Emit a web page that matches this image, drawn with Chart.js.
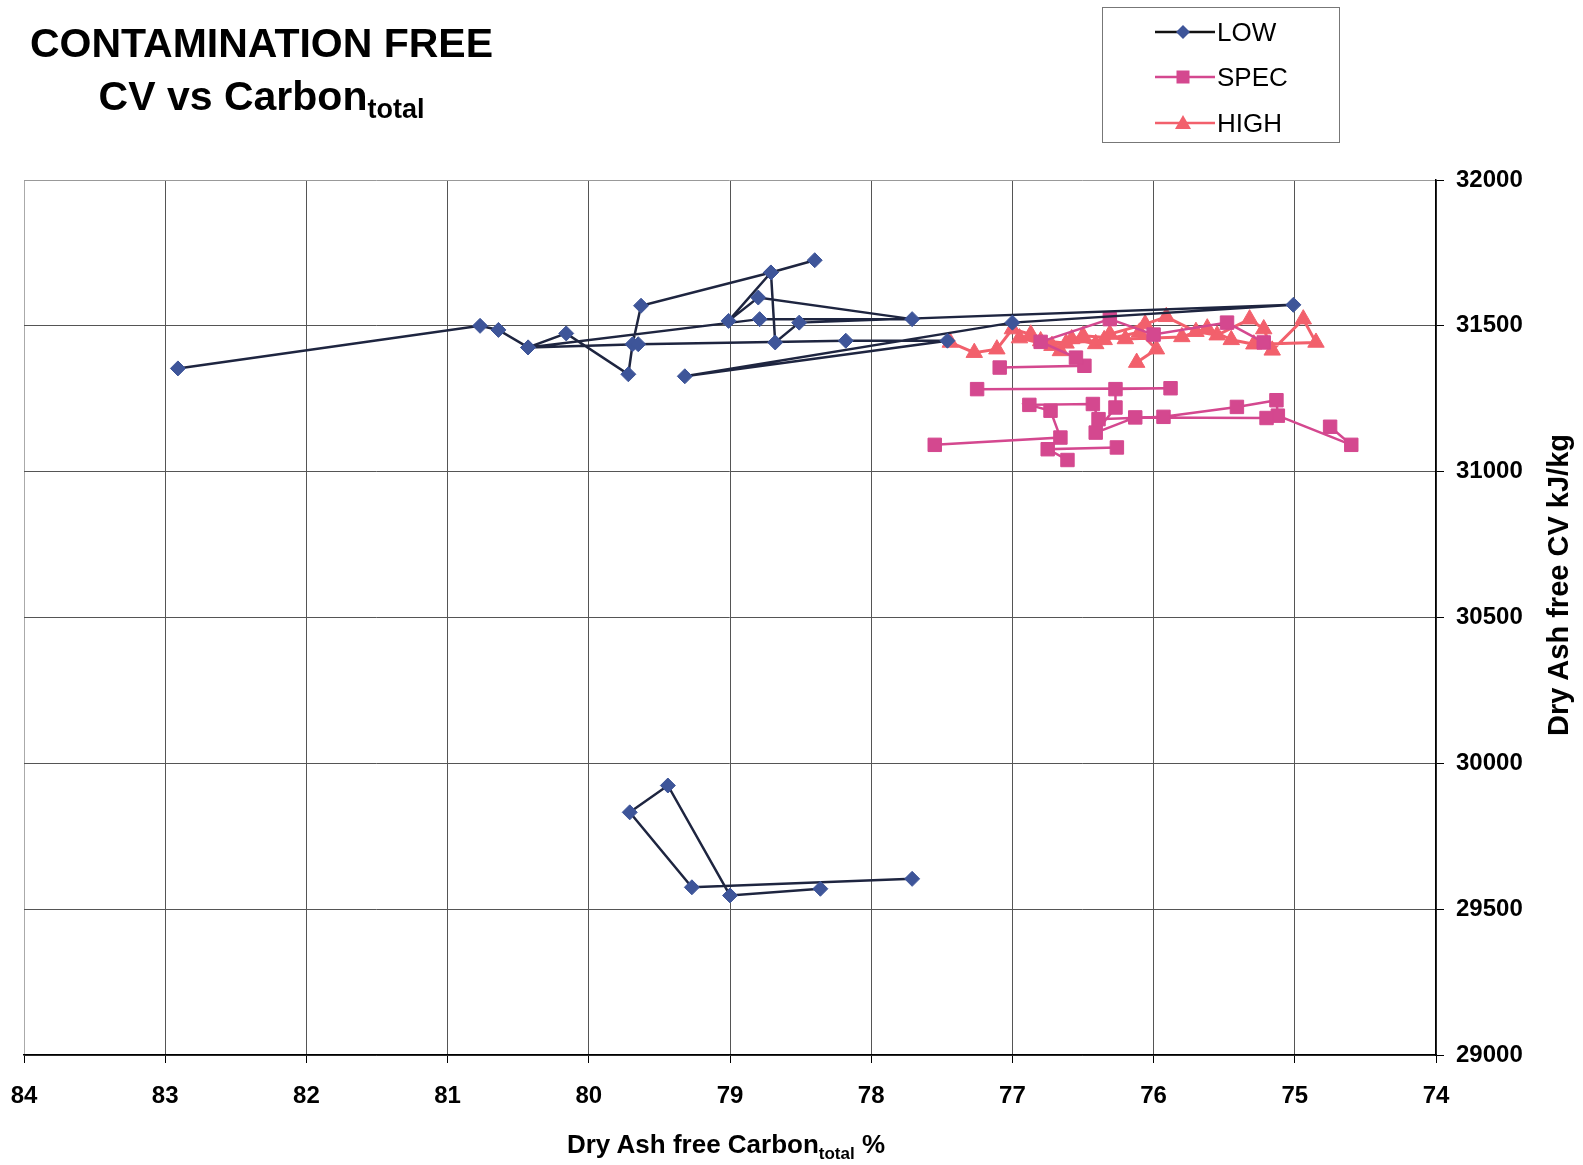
<!DOCTYPE html>
<html>
<head>
<meta charset="utf-8">
<title>Contamination free - CV vs Carbon</title>
<script src="https://cdn.jsdelivr.net/npm/chart.js@4.4.1/dist/chart.umd.min.js"></script>
<style>
  html, body { margin: 0; padding: 0; background: #fff; }
  #wrap { position: relative; width: 1583px; height: 1165px; font-family: 'Liberation Sans', Arial, sans-serif; color: #000; }
  #chart { position: absolute; left: 0; top: 0; }
  .ttl { position: absolute; left: 0; width: 523px; text-align: center; font-weight: bold; font-size: 41px; line-height: 41px; white-space: nowrap; }
  .ttl .sub { font-size: 27px; position: relative; top: 8px; }
  #xtitle { position: absolute; left: 426px; width: 600px; top: 1131px; text-align: center; font-weight: bold; font-size: 26px; line-height: 26px; white-space: nowrap; }
  #xtitle .sub { font-size: 17px; position: relative; top: 6px; }
  #ytitle { position: absolute; left: 1358px; width: 400px; top: 571px; text-align: center; font-weight: bold; font-size: 29px; line-height: 28px; white-space: nowrap; transform: rotate(-90deg); transform-origin: 50% 50%; }
  #legend { position: absolute; left: 1102px; top: 7px; width: 238px; height: 136px; border: 1px solid #777; box-sizing: border-box; }
  #legend .row { position: absolute; left: 0; height: 30px; width: 100%; }
  #legend svg { position: absolute; left: 50px; top: 0; }
  #legend span { position: absolute; left: 114px; top: 0; font-size: 26px; line-height: 30px; }
</style>
</head>
<body>
<div id="wrap">
  <canvas id="chart" width="1583" height="1165"></canvas>
  <div class="ttl" style="top:23px">CONTAMINATION FREE</div>
  <div class="ttl" style="top:76px">CV vs Carbon<span class="sub">total</span></div>
  <div id="legend"></div>
  <div id="xtitle">Dry Ash free Carbon<span class="sub">total</span> %</div>
  <div id="ytitle">Dry Ash free CV kJ/kg</div>
</div>
<script>
const FONT = "'Liberation Sans', Arial, sans-serif";

// carbon % (x) and CV kJ/kg (y); null breaks the line between sample runs
const LOW_X = [82.91, 80.77, 80.64, 80.43, 80.16, 79.72, 79.69, 79.63, 78.71, 79.01, 78.80, 77.71, 78.79, 80.43, 79.65, 78.18, 77.46, 79.32, 77.00, 75.01, 78.51, 78.68, 78.71, 78.40,
  null, 78.36, 79.00, 79.44, 79.71, 79.27, 77.71];
const LOW_Y = [31354, 31500, 31486, 31426, 31474, 31334, 31437, 31569, 31683, 31517, 31597, 31523, 31523, 31426, 31437, 31449, 31449, 31327, 31511, 31572, 31511, 31443, 31683, 31725,
  null, 29570, 29547, 29924, 29832, 29575, 29604];

const SPEC_X = [77.09, 76.49, 76.55, 76.80, 76.31, 76.00, 75.48, 75.22,
  null, 77.55, 76.66, 76.73, 76.88, 76.43, 76.39, 75.93, 75.41, 75.13, 75.12, 74.60, 74.75,
  null, 77.25, 75.88, 76.27, 76.27, 76.41, 76.13, 75.20,
  null, 76.26, 76.75, 76.61];
const SPEC_Y = [31357, 31363, 31391, 31445, 31523, 31470, 31511, 31443,
  null, 31092, 31117, 31209, 31229, 31232, 31180, 31188, 31222, 31245, 31192, 31092, 31154,
  null, 31283, 31286, 31283, 31220, 31134, 31186, 31184,
  null, 31083, 31077, 31040];

const HIGH_X = [77.44, 77.27, 77.11, 77.00, 76.87, 76.80, 76.66, 76.58, 76.41, 76.31, 76.06, 75.91, 75.70, 75.55, 75.32, 75.22, 75.16, 74.94, 74.85,
  75.29, 75.45, 75.62, 75.80, 76.20, 76.50, 76.72, 76.95, 76.62, 76.35, 76.10, 75.98, 76.12];
const HIGH_Y = [31443, 31408, 31420, 31489, 31471, 31448, 31414, 31455, 31438, 31472, 31506, 31531, 31480, 31468, 31523, 31489, 31416, 31523, 31443,
  31437, 31452, 31492, 31462, 31455, 31466, 31432, 31458, 31440, 31452, 31478, 31420, 31374];

const X_TICKS = [84, 83, 82, 81, 80, 79, 78, 77, 76, 75, 74];
const Y_TICKS = [29000, 29500, 30000, 30500, 31000, 31500, 32000];

const SERIES = [
  { name: 'LOW',  xs: LOW_X,  ys: LOW_Y,  line: '#1e2540', fill: '#3e5599', shape: 'rectRot',  r: 7.5, w: 2.5 },
  { name: 'SPEC', xs: SPEC_X, ys: SPEC_Y, line: '#d4488f', fill: '#d4488f', shape: 'rect',     r: 9.5, w: 2.5 },
  { name: 'HIGH', xs: HIGH_X, ys: HIGH_Y, line: '#f2606c', fill: '#f2606c', shape: 'triangle', r: 9.5, w: 3 },
];

const pts = (xs, ys) => xs.map((x, i) => ({ x, y: ys[i] }));

const tickFont = { family: FONT, size: 24, weight: 'bold' };

new Chart(document.getElementById('chart'), {
  type: 'scatter',
  data: {
    datasets: SERIES.map(s => ({
      label: s.name, data: pts(s.xs, s.ys), showLine: true, spanGaps: false,
      borderColor: s.line, borderWidth: s.w, backgroundColor: s.fill,
      pointStyle: s.shape, pointRadius: s.r, pointBackgroundColor: s.fill, pointBorderColor: s.fill, pointBorderWidth: 1,
    })),
  },
  options: {
    responsive: false, animation: false,
    layout: { padding: { left: 24, top: 180, right: 0, bottom: 0 } },
    plugins: { legend: { display: false }, tooltip: { enabled: false }, title: { display: false } },
    scales: {
      x: {
        type: 'linear', reverse: true, min: 74, max: 84,
        afterBuildTicks: s => { s.ticks = X_TICKS.map(v => ({ value: v })); },
        // fixed band under the plot; the end labels may hang over the edges
        afterFit: s => { s.height = 110; s.paddingLeft = 0; s.paddingRight = 0; },
        ticks: { color: '#000', font: tickFont, padding: 19, maxRotation: 0, autoSkip: false },
        grid: { color: c => c.tick && c.tick.value === 84 ? '#aaa' : '#555', lineWidth: 1, tickLength: 8, tickColor: '#000' },
        border: { color: '#000', width: 1.5 },
      },
      y: {
        type: 'linear', position: 'right', min: 29000, max: 32000,
        afterBuildTicks: s => { s.ticks = Y_TICKS.map(v => ({ value: v })); },
        afterFit: s => { s.width = 147; s.paddingTop = 0; s.paddingBottom = 0; },
        ticks: { color: '#000', font: tickFont, padding: 12, callback: v => String(v) },
        grid: { color: c => c.tick && c.tick.value === 32000 ? '#999' : '#555', lineWidth: 1, tickLength: 8, tickColor: '#000' },
        border: { color: '#000', width: 1.5 },
      },
    },
  },
});

// legend box: short line with the marker in the middle, then the series name
const marker = s => {
  if (s.shape === 'rectRot') return `<polygon points="30,8 37,15 30,22 23,15" fill="${s.fill}"/>`;
  if (s.shape === 'rect') return `<rect x="23.5" y="8.5" width="13" height="13" fill="${s.fill}"/>`;
  return `<polygon points="30,7 38,21 22,21" fill="${s.fill}"/>`;
};
const rowsY = [9, 54, 100];
document.getElementById('legend').innerHTML = SERIES.map((s, i) =>
  `<div class="row" style="top:${rowsY[i]}px"><svg width="62" height="30"><line x1="2" y1="15" x2="62" y2="15" stroke="${s.name === 'LOW' ? '#111' : s.line}" stroke-width="2.5"/>${marker(s)}</svg><span>${s.name}</span></div>`
).join('');
</script>
</body>
</html>
